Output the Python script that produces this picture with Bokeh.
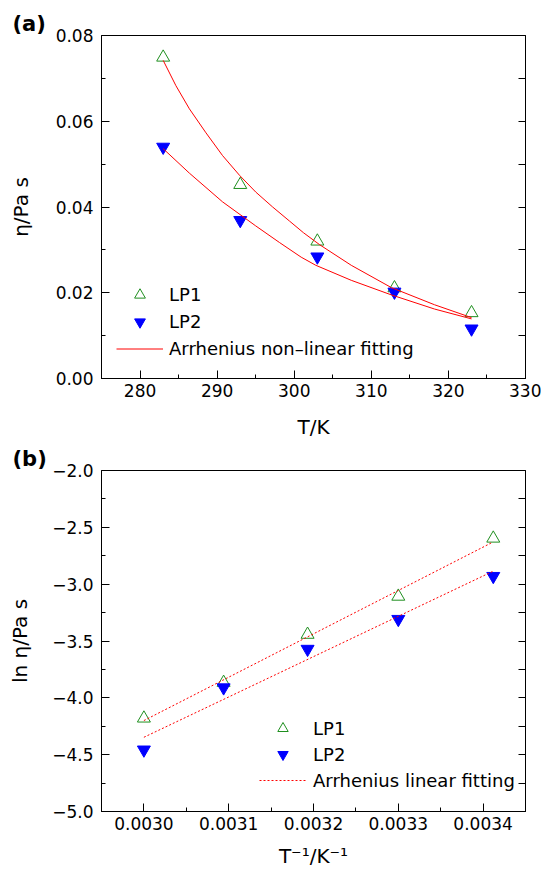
from bokeh.plotting import figure
from bokeh.models import Range1d, FixedTicker, LinearAxis, Legend, LegendItem, CustomLabelingPolicy
from bokeh.layouts import column
from bokeh.embed import file_html
from bokeh.resources import INLINE

# ---------------- data: panel (a) ----------------
T_K = [283, 293, 303, 313, 323]
eta_LP1 = [0.0749, 0.0452, 0.0320, 0.0211, 0.0153]
eta_LP2 = [0.0540, 0.0369, 0.0284, 0.0202, 0.0116]

# fitted curves
fit_T_LP1 = [283.0, 284.65, 286.4, 288.55, 290.7, 292.9, 295.0, 297.2, 299.4, 301.2,
             303.3, 307.4, 312.6, 318.2, 323.0]
fit_eta_LP1 = [0.0742, 0.0683, 0.0629, 0.0573, 0.0520, 0.0474, 0.0435, 0.0400, 0.0367, 0.0340,
               0.0312, 0.0264, 0.0212, 0.0172, 0.0142]
fit_T_LP2 = [283.0, 286.4, 290.7, 295.0, 298.1, 300.9, 302.8, 307.4, 312.6, 318.2, 323.0]
fit_eta_LP2 = [0.0536, 0.0479, 0.0412, 0.0356, 0.0317, 0.0283, 0.0264, 0.0229, 0.0195, 0.0162, 0.0139]

a_xticks = [280, 290, 300, 310, 320, 330]
a_xminor = [275, 285, 295, 305, 315, 325]
a_xlabels = ["280", "290", "300", "310", "320", "330"]
a_yticks = [0.0, 0.02, 0.04, 0.06, 0.08]
a_yminor = [0.01, 0.03, 0.05, 0.07]
a_ylabels = ["0.00", "0.02", "0.04", "0.06", "0.08"]
a_rticks = [0.0, 0.01, 0.02, 0.03, 0.04, 0.05, 0.06, 0.07, 0.08]

# ---------------- data: panel (b) ----------------
invT = [0.00300, 0.003094, 0.003193, 0.00330, 0.003412]
ln_LP1 = [-4.18, -3.866, -3.443, -3.108, -2.597]
ln_LP2 = [-4.457, -3.91, -3.571, -3.308, -2.93]
lin_x = [0.00300, 0.003411]
lin_LP1 = [-4.20, -2.632]
lin_LP2 = [-4.347, -2.889]

b_xticks = [0.0030, 0.0031, 0.0032, 0.0033, 0.0034]
b_xminor = [0.00295, 0.00305, 0.00315, 0.00325, 0.00335, 0.00345]
b_xlabels = ["0.0030", "0.0031", "0.0032", "0.0033", "0.0034"]
b_yticks = [-5.0, -4.5, -4.0, -3.5, -3.0, -2.5, -2.0]
b_yminor = [-4.75, -4.25, -3.75, -3.25, -2.75, -2.25]
b_ylabels = ["\u22125.0", "\u22124.5", "\u22124.0", "\u22123.5", "\u22123.0", "\u22122.5", "\u22122.0"]
b_rticks = [-5.0, -4.75, -4.5, -4.25, -4.0, -3.75, -3.5, -3.25, -3.0, -2.75, -2.5, -2.25, -2.0]

FONT = "DejaVu Sans"
GREEN = "#1f8f1f"
BLUE = "#0000ff"
RED = "#ff0000"


def make_fig(title, height, top, bottom, xr, yr):
    p = figure(width=541, height=height, x_range=Range1d(*xr), y_range=Range1d(*yr),
               output_backend="svg", toolbar_location=None, title=title,
               min_border_left=101, min_border_right=16,
               min_border_top=top, min_border_bottom=bottom)
    p.xgrid.visible = False
    p.ygrid.visible = False
    p.outline_line_color = "black"
    p.outline_line_width = 1
    p.background_fill_color = "white"
    p.border_fill_color = "white"
    p.title.align = "left"
    p.title.offset = -89
    p.title.standoff = 0
    p.title.text_font = FONT
    p.title.text_font_size = "21px"
    p.title.text_font_style = "bold"
    p.title.text_color = "black"
    return p


def style_axis(ax, ticks, minor, labels, standoff, title, title_standoff):
    ax.ticker = FixedTicker(ticks=ticks, minor_ticks=minor)
    ax.major_label_overrides = {t: l for t, l in zip(ticks, labels)}
    ax.major_tick_in = 8
    ax.major_tick_out = 0
    ax.minor_tick_in = 4
    ax.minor_tick_out = 0
    ax.axis_line_color = "black"
    ax.major_tick_line_color = "black"
    ax.minor_tick_line_color = "black"
    ax.major_label_text_font = FONT
    ax.major_label_text_font_size = "17px"
    ax.major_label_text_color = "black"
    ax.major_label_standoff = standoff
    ax.axis_label = title
    ax.axis_label_standoff = title_standoff
    ax.axis_label_text_font = FONT
    ax.axis_label_text_font_size = "20px"
    ax.axis_label_text_font_style = "normal"
    ax.axis_label_text_color = "black"


def right_axis(p, ticks):
    hide_all = CustomLabelingPolicy(code="for (const i of [...indices]) indices.unset(i); return indices")
    ax = LinearAxis(ticker=FixedTicker(ticks=ticks), major_tick_in=7, major_tick_out=0,
                    minor_tick_in=0, minor_tick_out=0, major_label_text_font_size="0px",
                    major_label_standoff=0, major_label_policy=hide_all,
                    axis_line_color="black", major_tick_line_color="black")
    p.add_layout(ax, "right")


def make_legend(items, loc, row_h, standoff):
    return Legend(items=items, location=loc, orientation="vertical", padding=0, margin=0,
                  spacing=0, glyph_width=47, glyph_height=row_h, label_height=row_h,
                  label_standoff=standoff, label_text_font=FONT, label_text_font_size="18px",
                  label_text_color="black", background_fill_alpha=0, border_line_alpha=0)


# ---------------- panel (a) ----------------
pa = make_fig("(a)", 444, 35, 66, (275, 330), (0, 0.08))
style_axis(pa.xaxis[0], a_xticks, a_xminor, a_xlabels, 5, "T/K", 15)
style_axis(pa.yaxis[0], a_yticks, a_yminor, a_ylabels, 8, "\u03b7/Pa s", 20)
right_axis(pa, a_rticks)

ra1 = pa.scatter(T_K, eta_LP1, marker="triangle", size=13, fill_color=None,
                 line_color=GREEN, line_width=1)
ra2 = pa.scatter(T_K, eta_LP2, marker="inverted_triangle", size=13, fill_color=BLUE,
                 line_color=BLUE, line_width=1)
ra3 = pa.line(fit_T_LP1, fit_eta_LP1, line_color=RED, line_width=1)
pa.line(fit_T_LP2, fit_eta_LP2, line_color=RED, line_width=1)

pa.add_layout(make_legend([LegendItem(label="LP1", renderers=[ra1]),
                           LegendItem(label="LP2", renderers=[ra2]),
                           LegendItem(label="Arrhenius non\u2013linear fitting", renderers=[ra3])],
                          (15, 16), 27, 6))

# ---------------- panel (b) ----------------
pb = make_fig("(b)", 428, 24, 61, (0.00295, 0.00345), (-5, -2))
style_axis(pb.xaxis[0], b_xticks, b_xminor, b_xlabels, 5, "T\u207b\u00b9/K\u207b\u00b9", 11)
style_axis(pb.yaxis[0], b_yticks, b_yminor, b_ylabels, 8, "ln \u03b7/Pa s", 17)
right_axis(pb, b_rticks)

rb1 = pb.scatter(invT, ln_LP1, marker="triangle", size=13, fill_color=None,
                 line_color=GREEN, line_width=1)
rb2 = pb.scatter(invT, ln_LP2, marker="inverted_triangle", size=13, fill_color=BLUE,
                 line_color=BLUE, line_width=1)
rb3 = pb.line(lin_x, lin_LP1, line_color=RED, line_width=1, line_dash="2 2")
pb.line(lin_x, lin_LP2, line_color=RED, line_width=1, line_dash="2 2")

pb.add_layout(make_legend([LegendItem(label="LP1", renderers=[rb1]),
                           LegendItem(label="LP2", renderers=[rb2]),
                           LegendItem(label="Arrhenius linear fitting", renderers=[rb3])],
                          (158, 18), 26, 7))

layout = column(pa, pb, spacing=0)
open("out.html", "w").write(file_html(layout, INLINE))
